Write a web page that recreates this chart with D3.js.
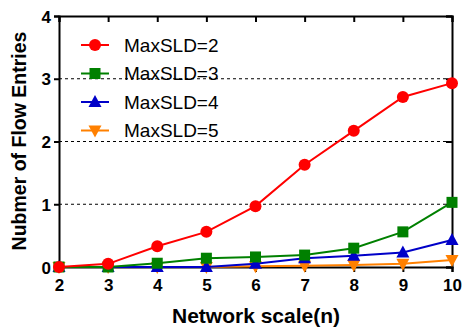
<!DOCTYPE html>
<html>
<head>
<meta charset="utf-8">
<script src="https://cdn.jsdelivr.net/npm/d3@7"></script>
<style>
  body { margin: 0; background: #fff; }
  text { font-family: "Liberation Sans", Arial, sans-serif; }
</style>
</head>
<body>
<script>
// the canvas size
var width = 463
var height = 328

// data
const scales = [2, 3, 4, 5, 6, 7, 8, 9, 10];
const sld2 = [0, 0.05, 0.33, 0.56, 0.97, 1.63, 2.17, 2.71, 2.93];
const sld3 = [0, 0, 0.06, 0.14, 0.16, 0.19, 0.30, 0.56, 1.03];
const sld4 = [0, 0, 0, 0, 0.05, 0.14, 0.18, 0.23, 0.43];
const sld5 = [0, 0, 0, 0, 0.01, 0.02, 0.03, 0.05, 0.11];
const yTicks = [0, 1, 2, 3, 4];
const seriesNames = ["MaxSLD=2", "MaxSLD=3", "MaxSLD=4", "MaxSLD=5"];

const series = [
  {name: seriesNames[0], values: sld2, color: "#ff0000", shape: "circle"},
  {name: seriesNames[1], values: sld3, color: "#008000", shape: "square"},
  {name: seriesNames[2], values: sld4, color: "#0000c8", shape: "up"},
  {name: seriesNames[3], values: sld5, color: "#ff8000", shape: "down"}
];

// plot area edges
var pLeft = 59, pRight = 452, pTop = 16, pBottom = 267;

const svg = d3.select("body").append("svg")
  .attr("width", width).attr("height", height)

var x = d3.scaleLinear().domain([2, 10]).range([pLeft, pRight])
var y = d3.scaleLinear().domain([0, 4]).range([pBottom, pTop])

// dashed grid lines
svg.selectAll("line.grid")
  .data([1, 2, 3])
  .enter().append("line")
  .attr("x1", pLeft).attr("x2", pRight)
  .attr("y1", d => y(d)).attr("y2", d => y(d))
  .attr("stroke", "#000").attr("stroke-width", 1)
  .attr("stroke-dasharray", "3,3")

// axes
var axisStyle = g => {
  g.selectAll("path").attr("stroke-width", 2)
  g.selectAll("line").attr("stroke-width", 2)
  g.selectAll("text").attr("font-size", "17px").attr("font-weight", "bold")
    .attr("font-family", "Liberation Sans, Arial, sans-serif").attr("fill", "#000")
}

svg.append("g").attr("transform", "translate(0," + pBottom + ")")
  .call(d3.axisBottom(x).tickValues(scales).tickFormat(d3.format("d")).tickSizeOuter(0).tickSize(5).tickPadding(7))
  .call(axisStyle)

svg.append("g").attr("transform", "translate(" + pLeft + ",0)")
  .call(d3.axisLeft(y).tickValues(yTicks).tickFormat(d3.format("d")).tickSizeOuter(0).tickSize(5).tickPadding(3))
  .call(axisStyle)
  .selectAll("text").attr("dy", "0.36em")

svg.append("g").attr("transform", "translate(0," + pTop + ")")
  .call(d3.axisBottom(x).tickValues(scales).tickFormat("").tickSizeOuter(0).tickSize(6))
  .call(axisStyle)

svg.append("g").attr("transform", "translate(" + pRight + ",0)")
  .call(d3.axisLeft(y).tickValues(yTicks).tickFormat("").tickSizeOuter(0).tickSize(6))
  .call(axisStyle)

// axis titles
svg.append("text")
  .attr("x", 256).attr("y", 323)
  .attr("text-anchor", "middle")
  .attr("font-size", "21px").attr("font-weight", "bold")
  .text("Network scale(n)")

svg.append("text")
  .attr("transform", "translate(26,141) rotate(-90)")
  .attr("text-anchor", "middle")
  .attr("font-size", "19.5px").attr("font-weight", "bold")
  .text("Nubmer of Flow Entries")

function marker(g, shape, color) {
  if (shape == "circle") {
    g.append("circle").attr("r", 6).attr("fill", color)
  } else if (shape == "square") {
    g.append("rect").attr("x", -5.5).attr("y", -5.5).attr("width", 11).attr("height", 11).attr("fill", color)
  } else if (shape == "up") {
    g.append("path").attr("d", "M0,-7L6.5,5L-6.5,5Z").attr("fill", color)
  } else {
    g.append("path").attr("d", "M0,7L6.5,-5L-6.5,-5Z").attr("fill", color)
  }
}

var line = d3.line().x((d, i) => x(scales[i])).y(d => y(d))

// draw last series first so red sits on top
series.slice().reverse().forEach(s => {
  svg.append("path")
    .attr("d", line(s.values))
    .attr("fill", "none").attr("stroke", s.color).attr("stroke-width", 2)
  svg.selectAll(null)
    .data(s.values)
    .enter().append("g")
    .attr("transform", (d, i) => "translate(" + x(scales[i]) + "," + y(d) + ")")
    .each(function() { marker(d3.select(this), s.shape, s.color) })
})

// legend
var legend = svg.selectAll("g.legend")
  .data(series)
  .enter().append("g")
  .attr("transform", (d, i) => "translate(81," + (45 + i * 28.5) + ")")

legend.append("line")
  .attr("x1", 0).attr("x2", 28)
  .attr("stroke", d => d.color).attr("stroke-width", 2)
legend.each(function(d) {
  var g = d3.select(this).append("g").attr("transform", "translate(14,0)")
  marker(g, d.shape, d.color)
})
legend.append("text")
  .attr("x", 43).attr("dy", "0.36em")
  .attr("font-size", "19px")
  .text(d => d.name)
</script>
</body>
</html>
